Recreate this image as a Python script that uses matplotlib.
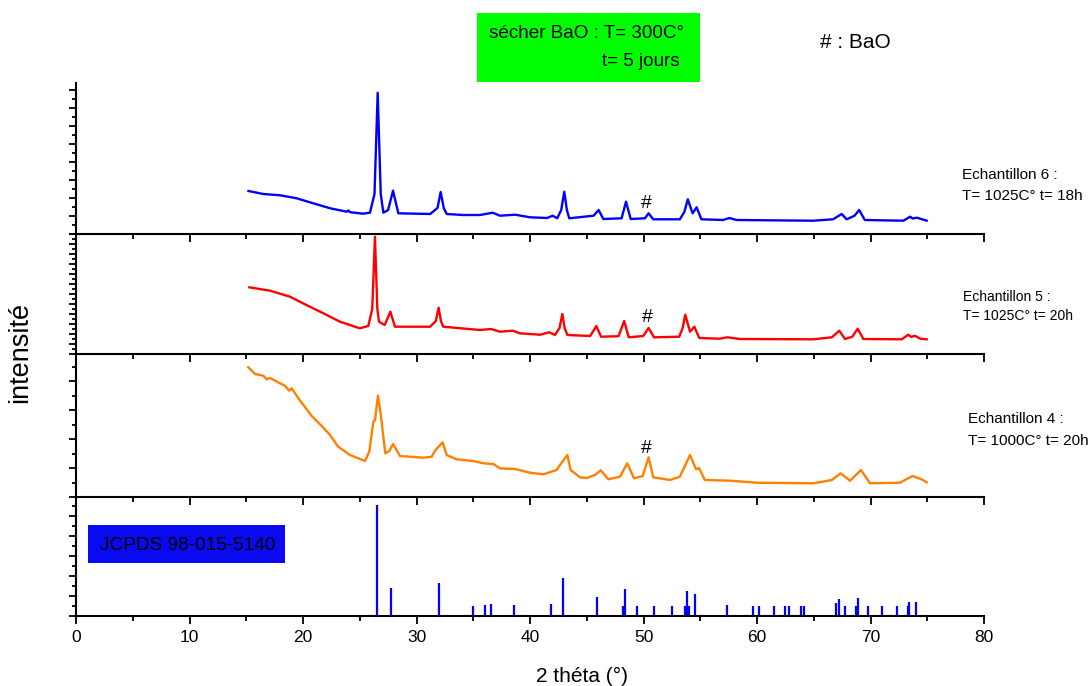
import matplotlib
matplotlib.use("Agg")
import matplotlib.pyplot as plt
from matplotlib.patches import Rectangle
from matplotlib.ticker import MultipleLocator, NullFormatter

plt.rcParams["font.family"] = ["Liberation Sans", "DejaVu Sans"]

# 2 theta (deg) / intensity (a.u.)
x6 = [15.2, 16.5, 18.0, 19.45, 20.9, 22.4, 23.85, 24.0, 24.15, 25.3, 25.9, 26.3, 26.58, 26.85, 27.08,
      27.5, 27.93, 28.4, 31.2, 31.85, 32.13, 32.4, 32.66, 34.1, 35.6, 36.7, 37.36, 38.7, 40.0, 41.5,
      42.0, 42.4, 42.75, 43.02, 43.25, 43.46, 45.6, 46.05, 46.46, 48.07, 48.46, 48.87, 50.13, 50.45,
      50.86, 53.2, 53.6, 53.9, 54.33, 54.68, 55.1, 57.0, 57.56, 58.2, 64.96, 66.7, 67.46, 67.9, 68.6,
      69.0, 69.5, 72.9, 73.5, 73.7, 74.1, 74.95]
y6 = [43, 40, 38.7, 35.7, 30.7, 25.7, 22.3, 23.5, 21.8, 20.3, 21.3, 40, 141.3, 40, 21.3,
      24, 43.3, 20.7, 20, 26, 42, 26, 20, 19, 19, 21.3, 18.3, 19.3, 16.7, 16,
      18.3, 15.7, 24, 42.3, 24, 15.7, 18.3, 24, 15, 15.7, 32.3, 15, 15.7, 20.7,
      14.7, 14.7, 22, 34.7, 20.7, 26.7, 14.7, 14, 16, 14, 13.3, 14.7, 20, 14.7, 18.3,
      24, 14, 13.3, 17.3, 15.5, 16.3, 13.3]

x5 = [15.27, 17.1, 18.85, 20.3, 21.8, 23.26, 25.0, 25.75, 26.1, 26.34, 26.55, 26.7, 27.2, 27.7,
      28.1, 31.2, 31.7, 31.95, 32.15, 32.36, 35.6, 36.56, 37.36, 38.5, 39.1, 40.9, 41.7, 42.2, 42.6,
      42.85, 43.05, 43.3, 45.3, 45.85, 46.26, 47.8, 48.3, 48.7, 49.98, 50.45, 50.93, 53.15, 53.45,
      53.68, 54.1, 54.48, 54.92, 56.7, 57.38, 58.5, 64.96, 66.6, 67.25, 67.75, 68.4, 68.87, 69.37,
      72.75, 73.33, 73.6, 73.9, 74.4, 74.95]
y5 = [66.7, 63.3, 57.3, 49, 40.7, 32.3, 25.7, 28, 45, 117.3, 45, 32.3, 29, 42.3,
      27.3, 27.3, 33, 46.3, 33, 27.3, 24, 25, 22.3, 23.3, 20.7, 19.3, 21.7, 19, 26,
      40, 26, 19, 18, 28, 17.3, 17.8, 33, 16.7, 18, 26, 16.7, 17.3, 26,
      39.3, 22.3, 27.3, 16, 15.3, 16.7, 15, 14.7, 16.7, 23.3, 15, 17.3, 25.3, 15,
      14.7, 19.3, 17, 18.3, 15.3, 14.7]

x4 = [15.18, 15.77, 16.5, 16.8, 17.1, 17.97, 18.4, 18.8, 19.0, 19.7, 20.77, 21.65, 22.38, 23.1,
      24.14, 24.87, 25.46, 25.84, 26.2, 26.35, 26.6, 26.84, 27.25, 27.6, 27.93, 28.55, 29.43, 30.6,
      31.34, 31.63, 32.3, 32.66, 33.54, 35.0, 35.9, 36.77, 37.36, 38.68, 40.0, 41.17, 42.35, 42.64,
      43.29, 43.58, 44.4, 45.0, 45.73, 46.23, 46.9, 47.93, 48.57, 49.16, 49.93, 50.45, 50.86, 52.33,
      53.2, 54.1, 54.63, 54.9, 55.4, 57.6, 59.97, 64.96, 66.6, 67.37, 68.2, 69.16, 69.96, 72.6,
      73.7, 74.5, 74.95]
y4 = [129.7, 123, 121.3, 117.7, 119, 113.7, 111.3, 106.3, 108.7, 97, 81, 71, 62, 50.3,
      42, 38.7, 36, 45.3, 75.3, 77, 101.3, 83.7, 43.7, 46, 53, 41, 40.3, 39.3,
      40.3, 46.3, 54.7, 42, 37.7, 36, 33.7, 33, 28.7, 28, 24.3, 22.7, 27, 32,
      42, 27, 19.7, 19, 22, 26.7, 17.7, 20.3, 33.7, 18.7, 21, 39.7, 19.7, 17,
      20.3, 42, 27.7, 29, 17, 16.3, 14.3, 13.7, 17, 23.7, 16.3, 27, 13.7, 14.3,
      21, 17.7, 14.7]

# JCPDS 98-015-5140 reference lines
ref_pos = [26.49, 27.75, 32.0, 35.0, 36.04, 36.6, 38.6, 41.85, 42.88, 45.9, 48.17, 48.37, 49.4,
           50.95, 52.5, 53.66, 53.8, 54.0, 54.54, 57.4, 59.68, 60.15, 61.5, 62.47, 62.85, 63.88,
           64.14, 66.96, 67.26, 67.78, 68.72, 68.9, 69.78, 71.04, 72.3, 73.28, 73.4, 73.98]
ref_int = [111, 27.7, 32.7, 10.3, 11.3, 12.3, 11.3, 11.7, 37.7, 19.3, 9.7, 27.3, 10,
           9.7, 10, 9.7, 25, 9.7, 22, 11, 9.7, 10, 10, 10, 10, 10,
           10, 12.7, 17, 10, 10, 17.7, 10, 10, 10, 10, 14.3, 14.3]

fig = plt.figure(figsize=(10.92, 6.86), dpi=100)
W, H = 1092, 686
left, right = 76, 984


def panel(top, bottom, ymax, major, minor):
    ax = fig.add_axes([left / W, (H - bottom) / H, (right - left) / W, (bottom - top) / H])
    ax.set_xlim(0, 80)
    ax.set_ylim(0, ymax)
    for s in ["top", "right"]:
        ax.spines[s].set_visible(False)
    for s in ["left", "bottom"]:
        ax.spines[s].set_linewidth(1.5)
    ax.xaxis.set_major_locator(MultipleLocator(10))
    ax.xaxis.set_minor_locator(MultipleLocator(5))
    ax.yaxis.set_major_locator(MultipleLocator(major))
    ax.yaxis.set_minor_locator(MultipleLocator(minor))
    ax.yaxis.set_major_formatter(NullFormatter())
    ax.xaxis.set_major_formatter(NullFormatter())
    ax.tick_params(which="major", direction="out", length=6, width=1.3)
    ax.tick_params(which="minor", direction="out", length=3.5, width=1.3)
    ax.tick_params(axis="y", which="major", length=5)
    ax.tick_params(axis="y", which="minor", length=3)
    ax.patch.set_alpha(0)
    return ax


ax1 = panel(83, 234, 151, 18, 9)
ax2 = panel(234, 354, 120, 10, 5)
ax3 = panel(354, 497, 143, 29, 14.5)
ax4 = panel(497, 616, 119, 20, 10)

ax1.plot(x6, y6, color="#0000ff", lw=1.7, clip_on=False)
ax2.plot(x5, y5, color="#ff0000", lw=1.7, clip_on=False)
ax3.plot(x4, y4, color="#ff8000", lw=1.7, clip_on=False)
ax4.vlines(ref_pos, 0, ref_int, color="#0000ff", lw=1.6)

ax1.text(50.28, 30.7, "#", ha="center", va="center", fontsize=14)
ax2.text(50.37, 36.7, "#", ha="center", va="center", fontsize=14)
ax3.text(50.28, 48.7, "#", ha="center", va="center", fontsize=14)

ax4.xaxis.set_major_formatter(plt.FuncFormatter(lambda v, p: f"{v:.0f}"))
ax4.tick_params(axis="x", labelsize=12.5, pad=4)

fig.text(582 / W, (H - 676) / H, "2 théta (°)", ha="center", va="center", fontsize=15)
fig.text(20 / W, (H - 352) / H, "intensité", rotation=90, ha="center", va="center", fontsize=19.5)

# green label box
fig.add_artist(Rectangle((477 / W, (H - 82) / H), 223 / W, 69 / H, transform=fig.transFigure,
                         facecolor="#00ff00", edgecolor="none"))
fig.text(684 / W, (H - 33) / H, "sécher BaO : T= 300C°", ha="right", va="center", fontsize=13.6)
fig.text(680 / W, (H - 62) / H, "t= 5 jours", ha="right", va="center", fontsize=13.6)
fig.text(820 / W, (H - 42) / H, "# : BaO", ha="left", va="center", fontsize=15)

# JCPDS box
fig.add_artist(Rectangle((88 / W, (H - 563) / H), 197 / W, 38 / H, transform=fig.transFigure,
                         facecolor="#0a0af0", edgecolor="none"))
fig.text(100 / W, (H - 545) / H, "JCPDS 98-015-5140", ha="left", va="center", fontsize=13.7)

fig.text(962 / W, (H - 175) / H, "Echantillon 6 :", ha="left", va="center", fontsize=11)
fig.text(962 / W, (H - 196) / H, "T= 1025C° t= 18h", ha="left", va="center", fontsize=11)
fig.text(963 / W, (H - 297) / H, "Echantillon 5 :", ha="left", va="center", fontsize=10)
fig.text(963 / W, (H - 316) / H, "T= 1025C° t= 20h", ha="left", va="center", fontsize=10)
fig.text(968 / W, (H - 419) / H, "Echantillon 4 :", ha="left", va="center", fontsize=11)
fig.text(968 / W, (H - 441) / H, "T= 1000C° t= 20h", ha="left", va="center", fontsize=11)

fig.savefig("out.png", dpi=100)
